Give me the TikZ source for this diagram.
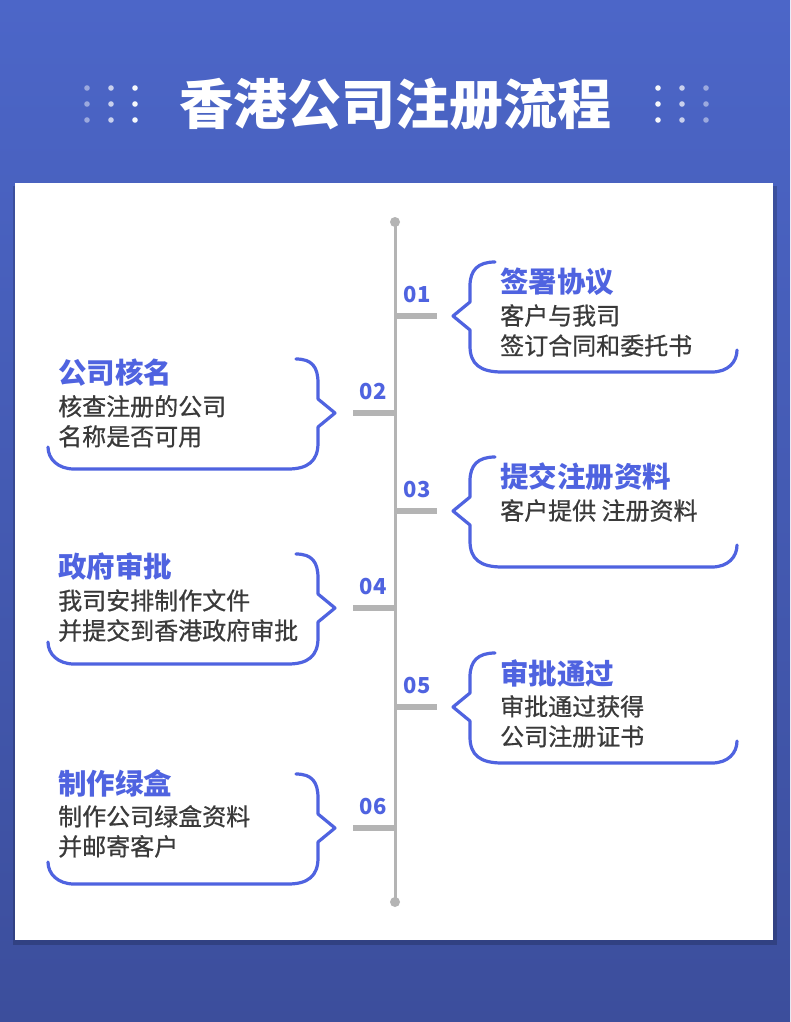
\documentclass[tikz,border=0pt]{standalone}
\usepackage{fontspec}
\newfontfamily\cjk{Noto Sans CJK SC}
\newfontfamily\cjkm{Noto Sans CJK SC}[RawFeature={embolden=0.7}]
\usetikzlibrary{positioning}
\definecolor{bgtop}{HTML}{4C66C8}
\definecolor{bgbot}{HTML}{3C4E9C}
\definecolor{accent}{HTML}{4F63E0}
\definecolor{txt}{HTML}{3A3A3A}
\definecolor{axis}{HTML}{B4B4B4}
\tikzset{
  heading/.style = {anchor = west, inner sep = 0pt, text = accent, font = \cjk\bfseries\fontsize{28.5}{28.5}\selectfont},
  body/.style = {anchor = north west, inner sep = 0pt, text = txt, align = left, font = \cjkm\fontsize{24}{30}\selectfont},
  num/.style = {inner sep = 0pt, text = accent, font = \cjk\bfseries\fontsize{22}{22}\selectfont},
  brk/.style = {draw = accent, line width = 3.2pt, line cap = round, line join = round},
  tick/.style = {draw = axis, line width = 6pt},
}
\begin{document}
\begin{tikzpicture}[x = 1pt, y = -1pt]

	% Background and card

	\shade [top color = bgtop, bottom color = bgbot] (0, 0) rectangle (790, 1022);
	\useasboundingbox (0, 0) rectangle (790, 1022);
	\fill [black, opacity = 0.18] (13, 186) rectangle (777, 945);
	\fill [white] (15, 183) rectangle (773, 940);

	% Title

	\node [text = white, font = \cjk\bfseries\fontsize{54}{54}\selectfont] (title) at (395, 104) {香港公司注册流程};
	\foreach \dx in {0, 1, 2}
		\foreach \dy in {0, 1, 2} {
			\fill [white, opacity = {0.45 + 0.25 * \dx}] (87 + 24 * \dx, 88 + 16 * \dy) circle (2.8);
			\fill [white, opacity = {0.95 - 0.25 * \dx}] (658 + 24 * \dx, 88 + 16 * \dy) circle (2.8);
		}

	% Time line

	\coordinate (top) at (395, 222);
	\coordinate (bot) at (395, 902);
	\draw [axis, line width = 3pt] (top) -- (bot);
	\fill [axis] (top) circle (5);
	\fill [axis] (bot) circle (5);

	% Right hand steps: tick y / number / heading / text

	\foreach \y/\n/\h/\t in {316/01/签署协议/{客户与我司\\签订合同和委托书},
	                         511/03/提交注册资料/{客户提供 注册资料},
	                         707/05/审批通过/{审批通过获得\\公司注册证书}} {
		\coordinate (t\n) at (395, \y);
		\coordinate (e\n) at (437, \y);
		\draw [tick] (t\n) -- (e\n);
		\node [num] (n\n) at (417, \y - 21) {\n};
		\draw [brk] (495, \y - 54) .. controls (478, \y - 54) and (470, \y - 46) .. (470, \y - 30)
			-- (470, \y - 14) -- (453, \y) -- (470, \y + 14) -- (470, \y + 30)
			.. controls (470, \y + 48) and (480, \y + 56) .. (502, \y + 56) -- (712, \y + 56)
			.. controls (728, \y + 56) and (737, \y + 46) .. (737, \y + 34);
		\node [heading] (h\n) at (500, \y - 34) {\h};
		\node [body, below = 8pt of h\n.south west, anchor = north west] (b\n) {\t};
	}

	% Left hand steps

	\foreach \y/\n/\h/\t/\up in {413/02/公司核名/{核查注册的公司\\名称是否可用}/40,
	                             608/04/政府审批/{我司安排制作文件\\并提交到香港政府审批}/41,
	                             828/06/制作绿盒/{制作公司绿盒资料\\并邮寄客户}/45} {
		\coordinate (t\n) at (395, \y);
		\coordinate (e\n) at (353, \y);
		\draw [tick] (t\n) -- (e\n);
		\node [num] (n\n) at (373, \y - 21) {\n};
		\draw [brk] (296, \y - 54) .. controls (312, \y - 54) and (318, \y - 46) .. (318, \y - 30)
			-- (318, \y - 14) -- (335, \y) -- (318, \y + 14) -- (318, \y + 30)
			.. controls (318, \y + 48) and (308, \y + 56) .. (288, \y + 56) -- (74, \y + 56)
			.. controls (58, \y + 56) and (48, \y + 46) .. (48, \y + 34);
		\node [heading] (h\n) at (58, \y - \up) {\h};
		\node [body, below = 8pt of h\n.south west, anchor = north west] (b\n) {\t};
	}

\end{tikzpicture}
\end{document}
